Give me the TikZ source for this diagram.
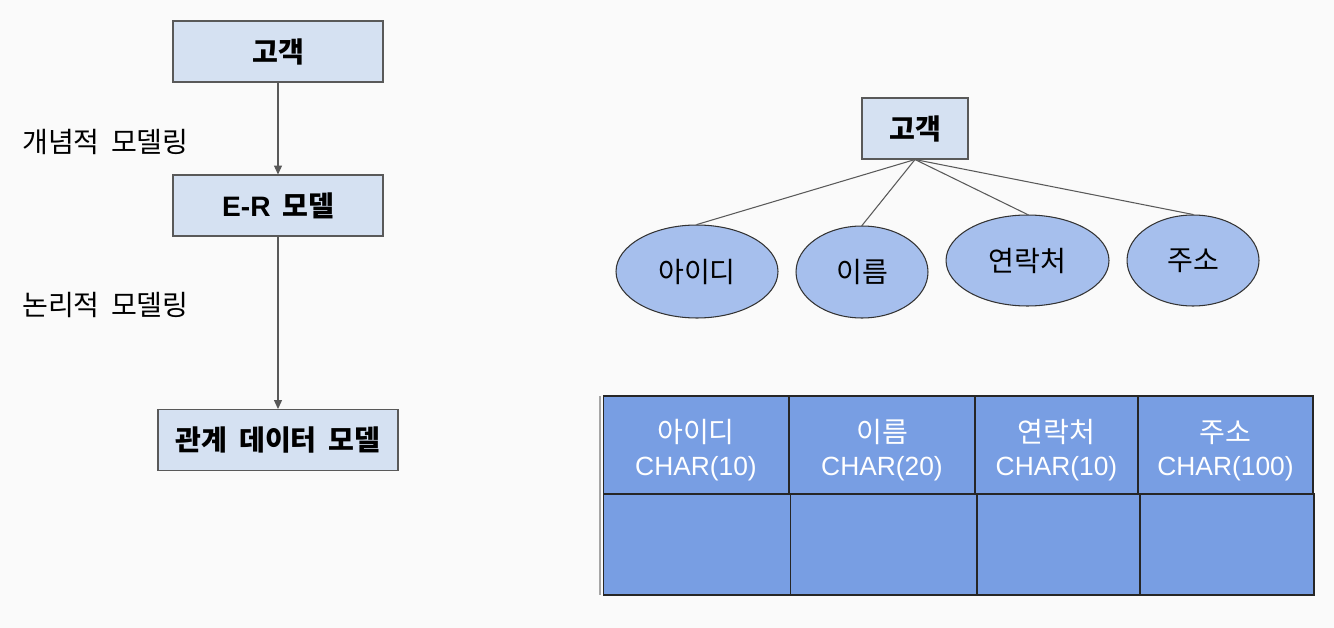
\documentclass[tikz,border=0pt]{standalone}
\usepackage{fontspec}
\setmainfont{Liberation Sans}
\newfontfamily\krfont[WordSpace=1.8]{Noto Sans CJK KR}
\definecolor{bggray}{RGB}{250,250,250}
\definecolor{boxblue}{RGB}{213,225,242}
\definecolor{ovalblue}{RGB}{166,191,237}
\definecolor{cellblue}{RGB}{120,158,227}
\definecolor{edgegray}{RGB}{89,89,89}
\usetikzlibrary{arrows.meta,positioning,shapes.geometric}
\newcommand{\typetext}[1]{{\fontspec{Liberation Sans}\fontsize{15}{19}\selectfont #1}}

\begin{document}
\begin{tikzpicture}[
  x=0.02cm, y=-0.02cm,
  every node/.style={font=\krfont\fontsize{16}{19}\selectfont},
  stepbox/.style={draw=edgegray,line width=0.6pt,fill=boxblue,
                  minimum width=4.2cm,minimum height=1.22cm,inner sep=0pt,
                  font=\krfont\bfseries\fontsize{16}{19}\selectfont},
  attr/.style={ellipse,draw=black!80,line width=0.6pt,fill=ovalblue,inner sep=0pt},
  cell/.style={draw=black!85,line width=0.6pt,fill=cellblue,inner sep=0pt,
               align=center,text=white},
  arr/.style={-{Triangle[length=5pt,width=4.5pt]},edgegray,line width=0.6pt},
  link/.style={edgegray,line width=0.6pt},
]
  % Background
  \fill[bggray] (0,0) rectangle (1334,628);
  \useasboundingbox (0,0) rectangle (1334,628);

  % Modeling steps (left)
  \node[stepbox] (cust) at (278,51.5) {고객};
  \node[stepbox] (er) at (278,205.5) {{\fontspec{Liberation Sans}\bfseries E-R} 모델};
  \node[stepbox,minimum width=4.8cm] (rel) at (278,440) {관계 데이터 모델};

  \node[anchor=west] (concept) at (16,142) {개념적 모델링};
  \node[anchor=west] (logic) at (16,305) {논리적 모델링};

  \draw[arr] (cust) -- (er);
  \draw[arr] (er) -- (rel);

  % Entity with attributes (right)
  \node[stepbox,minimum width=2.12cm] (ent) at (915,128.5) {고객};

  \node[attr,minimum width=3.24cm,minimum height=1.86cm] (aid) at (697,271.5) {아이디};
  \node[attr,minimum width=2.64cm,minimum height=1.84cm] (aname) at (862,272) {이름};
  \node[attr,minimum width=3.26cm,minimum height=1.82cm] (atel) at (1027.5,260.5) {연락처};
  \node[attr,minimum width=2.64cm,minimum height=1.82cm] (aaddr) at (1193,260.5) {주소};

  \draw[link] (ent.south) -- (aid.north);
  \draw[link] (ent.south) -- (aname.north);
  \draw[link] (ent.south) -- (atel.north);
  \draw[link] (ent.south) -- (aaddr.north);

  % Table
  \draw[gray!70,line width=1pt] (600,396) -- (600,595);
  \node[cell,minimum width=3.74cm,minimum height=2.02cm] (rid) at (697,544.5) {};
  \node[cell,minimum width=3.74cm,minimum height=2.02cm] (rname) at (883.5,544.5) {};
  \node[cell,minimum width=3.26cm,minimum height=2.02cm] (rtel) at (1058.5,544.5) {};
  \node[cell,minimum width=3.48cm,minimum height=2.02cm] (raddr) at (1227,544.5) {};

  \node[cell,minimum width=3.72cm,minimum height=1.96cm] (hid) at (696,445)
    {\rule{0pt}{19pt}아이디\\\typetext{CHAR(10)}};
  \node[cell,minimum width=3.72cm,minimum height=1.96cm] (hname) at (882,445)
    {\rule{0pt}{19pt}이름\\\typetext{CHAR(20)}};
  \node[cell,minimum width=3.26cm,minimum height=1.96cm] (htel) at (1056.5,445)
    {\rule{0pt}{19pt}연락처\\\typetext{CHAR(10)}};
  \node[cell,minimum width=3.5cm,minimum height=1.96cm] (haddr) at (1225.5,445)
    {\rule{0pt}{19pt}주소\\\typetext{CHAR(100)}};
\end{tikzpicture}
\end{document}
